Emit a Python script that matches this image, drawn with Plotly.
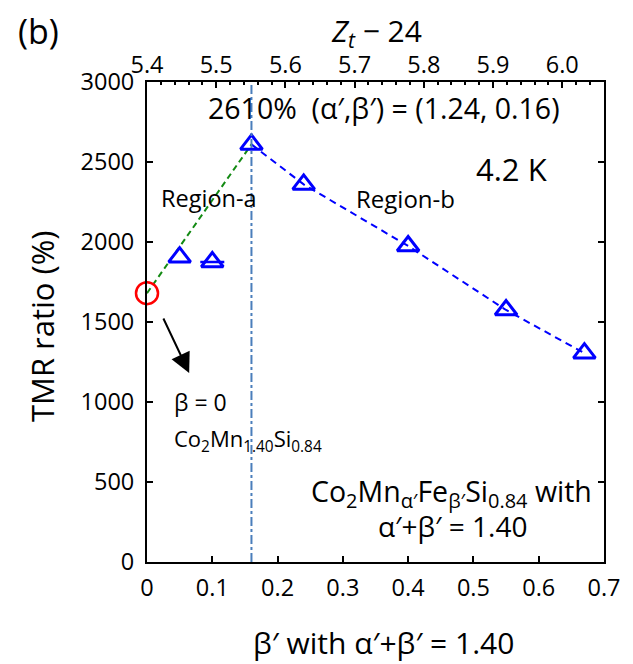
import plotly.graph_objects as go

# ---- data ----
beta_prime = [0.05, 0.10, 0.16, 0.24, 0.40, 0.55, 0.67]
tmr_ratio = [1905, 1875, 2610, 2360, 1975, 1575, 1305]
beta_zero = [0.0]
tmr_zero = [1680]
region_a_beta = [0.0, 0.16]
region_a_tmr = [1680, 2610]
region_b_beta = [0.16, 0.24, 0.40, 0.55, 0.67]
region_b_tmr = [2610, 2360, 1975, 1575, 1305]
peak_beta = 0.16
x_ticks = [0, 0.1, 0.2, 0.3, 0.4, 0.5, 0.6, 0.7]
x_ticktext = ["0", "0.1", "0.2", "0.3", "0.4", "0.5", "0.6", "0.7"]
y_ticks = [0, 500, 1000, 1500, 2000, 2500, 3000]
zt_ticks = [5.4, 5.5, 5.6, 5.7, 5.8, 5.9, 6.0]
zt_ticktext = ["5.4", "5.5", "5.6", "5.7", "5.8", "5.9", "6.0"]
zt_start = 5.4
zt_norm = 1.06  # (2 + 1.40 + 0.84) / 4

FONT = "Open Sans"
W, H = 633, 664
L, R, T, B = 147, 20, 82, 102
X_MAX, Y_MAX = 0.7, 3000

fig = go.Figure()

# Region-a (green dashed)
fig.add_trace(go.Scatter(x=region_a_beta, y=region_a_tmr, mode="lines",
                         line=dict(color="#138a13", width=2, dash="6px,4px"),
                         hoverinfo="skip", showlegend=False))
# Region-b (blue dashed)
fig.add_trace(go.Scatter(x=region_b_beta, y=region_b_tmr, mode="lines",
                         line=dict(color="#0000ff", width=2, dash="7px,5px"),
                         hoverinfo="skip", showlegend=False))
# horizontal bar on the beta'=0.10 point
fig.add_trace(go.Scatter(x=[beta_prime[1]], y=[tmr_ratio[1]], mode="markers",
                         marker=dict(opacity=0),
                         error_y=dict(type="constant", value=0, visible=True,
                                      color="#0000ff", thickness=2.5, width=12),
                         hoverinfo="skip", showlegend=False))
# triangles
fig.add_trace(go.Scatter(x=beta_prime, y=tmr_ratio, mode="markers",
                         marker=dict(symbol="triangle-up-open", size=19,
                                     color="#0000ff", line=dict(width=3, color="#0000ff")),
                         cliponaxis=False, showlegend=False))
# red circle at beta = 0
fig.add_trace(go.Scatter(x=beta_zero, y=tmr_zero, mode="markers",
                         marker=dict(symbol="circle-open", size=22,
                                     color="#ff0000", line=dict(width=2.5, color="#ff0000")),
                         cliponaxis=False, showlegend=False))
# invisible trace for top axis
fig.add_trace(go.Scatter(x=[zt_start], y=[0], xaxis="x2", mode="markers",
                         marker=dict(opacity=0), hoverinfo="skip", showlegend=False))

# vertical dash-dot line at peak
fig.add_shape(type="line", x0=peak_beta, x1=peak_beta, y0=0, y1=Y_MAX,
              xref="x", yref="y",
              line=dict(color="#4a7ebb", width=2, dash="dashdot"))

tick_font = dict(family=FONT, size=23.5, color="black")

fig.update_layout(
    width=W, height=H,
    margin=dict(l=L, r=R, t=T, b=B),
    paper_bgcolor="white", plot_bgcolor="white",
    font=dict(family=FONT, color="black"),
    xaxis=dict(range=[0, X_MAX], tickvals=x_ticks, ticktext=x_ticktext,
               ticks="inside", ticklen=6, tickwidth=2, tickcolor="black",
               showline=True, linewidth=2, linecolor="black", mirror=True,
               showgrid=False, zeroline=False, tickfont=tick_font,
               ticklabelstandoff=4),
    xaxis2=dict(overlaying="x", side="top",
                range=[zt_start, zt_start + X_MAX / zt_norm],
                tickvals=zt_ticks, ticktext=zt_ticktext,
                ticks="inside", ticklen=6, tickwidth=2, tickcolor="black",
                minor=dict(dtick=0.02, ticks="inside", ticklen=3, tickwidth=1.5,
                           tickcolor="black"),
                showline=False, showgrid=False, zeroline=False,
                tickfont=tick_font, ticklabelstandoff=3),
    yaxis=dict(range=[0, Y_MAX], tickvals=y_ticks,
               ticks="inside", ticklen=6, tickwidth=2, tickcolor="black",
               showline=True, linewidth=2, linecolor="black", mirror="ticks",
               showgrid=False, zeroline=False, tickfont=tick_font,
               ticklabelstandoff=6),
)

def px2x(px):
    return (px - L) / (W - L - R) * X_MAX

def py2y(py):
    return (H - B - py) / (H - B - T) * Y_MAX

def px2paper(px):
    return (px - L) / (W - L - R)

def py2paper(py):
    return (H - B - py) / (H - B - T)

def txt(text, px, py, size, xanchor="center", ref="data", **kw):
    if ref == "data":
        x, y, xr, yr = px2x(px), py2y(py), "x", "y"
    else:
        x, y, xr, yr = px2paper(px), py2paper(py), "paper", "paper"
    d = dict(text=text, x=x, y=y, xref=xr, yref=yr, xanchor=xanchor,
             yanchor="middle", showarrow=False, font=dict(family=FONT, size=size,
                                                          color="black"))
    d.update(kw)
    return d

ann = [
    txt("(b)", 36, 31, 34, ref="paper"),
    txt("<i>Z</i><sub><i>t</i></sub> − 24", 381, 32, 30, ref="paper"),
    txt("TMR ratio (%)", 40, 326, 31, ref="paper", textangle=-90),
    txt("β′ with α′+β′ = 1.40", 388, 642, 30, ref="paper"),
    txt("2610%&nbsp;&nbsp;(α′,β′) = (1.24, 0.16)", 207, 108, 28.5, xanchor="left"),
    txt("4.2 K", 480, 169, 31, xanchor="left"),
    txt("Region-a", 159, 198, 23.5, xanchor="left"),
    txt("Region-b", 358, 198, 24, xanchor="left"),
    txt("β = 0", 172, 402, 23, xanchor="left"),
    txt("Co<sub>2</sub>Mn<sub>1.40</sub>Si<sub>0.84</sub>", 172, 440, 22, xanchor="left"),
    txt("Co<sub>2</sub>Mn<sub>α′</sub>Fe<sub>β′</sub>Si<sub>0.84</sub> with", 458, 493, 28.5),
    txt("α′+β′ = 1.40", 459, 526, 28),
    dict(text="", x=px2x(190), y=py2y(373), ax=px2x(163), ay=py2y(317),
         axref="x", ayref="y", xref="x", yref="y", showarrow=True, arrowhead=2,
         arrowsize=2, arrowwidth=2, arrowcolor="black"),
]

fig.update_layout(annotations=ann)

fig.write_html("out.html")
